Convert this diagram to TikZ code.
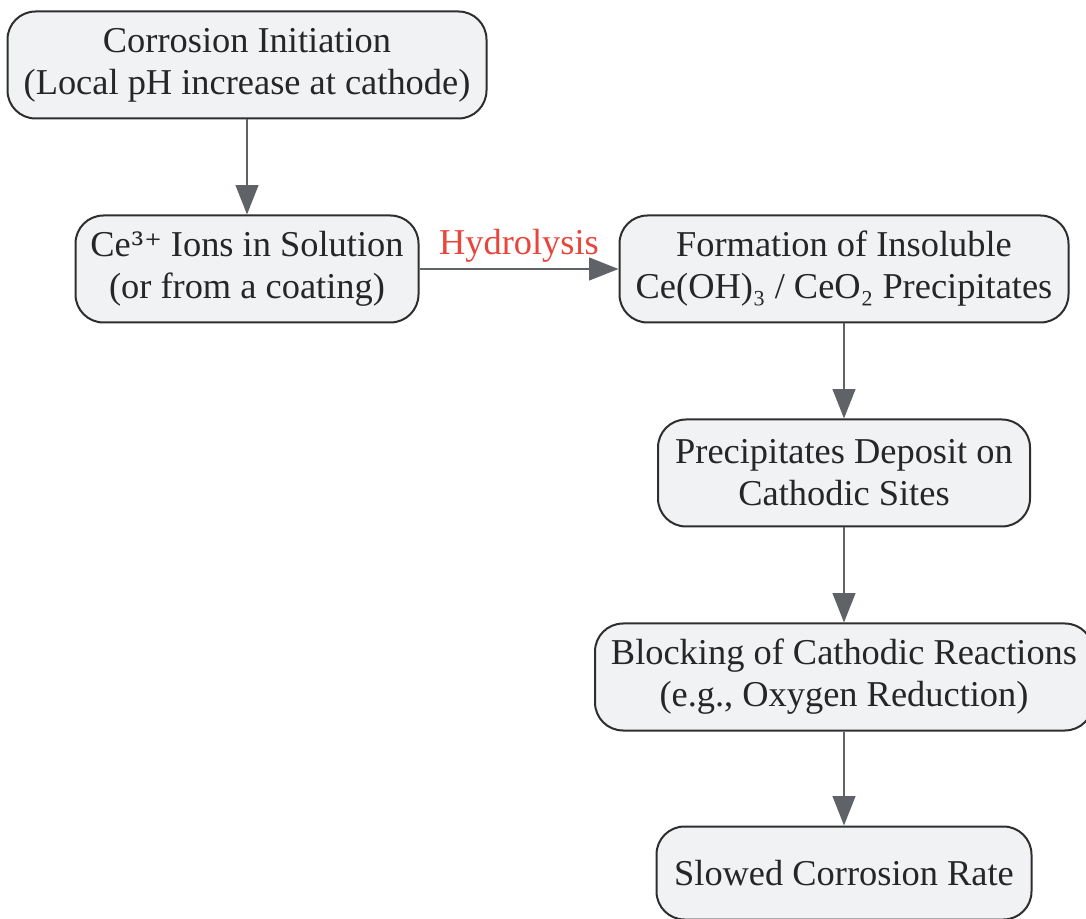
\documentclass[tikz,border=0pt]{standalone}
\usepackage{fontspec}
\setmainfont{Liberation Serif}
\newfontfamily\supfont{DejaVu Serif}
\usetikzlibrary{arrows.meta}
\definecolor{boxfill}{HTML}{F1F2F4}
\definecolor{boxline}{HTML}{2E2E2E}
\definecolor{arrowgray}{HTML}{5F6368}
\definecolor{labelred}{HTML}{E8453C}

\begin{document}
\begin{tikzpicture}[x=0.75pt,y=-0.75pt,
    stepbox/.style={draw=boxline, fill=boxfill, line width=1.5pt, rounded corners=21pt,
        align=center, inner sep=0pt, minimum height=80.25pt,
        font=\fontsize{27.3}{31.5}\selectfont, text=black!85},
    flow/.style={draw=arrowgray, line width=1.5pt, -{Triangle[length=22pt, width=17pt]}}]
\useasboundingbox (0,0) rectangle (1086,919);
\node[stepbox, minimum width=359.25pt] (init) at (247,65) {Corrosion Initiation\\(Local pH increase at cathode)};
\node[stepbox, minimum width=257.25pt] (ions) at (247,269) {Ce{\supfont\fontsize{25}{26}\selectfont ³⁺} Ions in Solution\\(or from a coating)};
\node[stepbox, minimum width=336.75pt] (form) at (844,269) {Formation of Insoluble\\Ce(OH)₃ / CeO₂ Precipitates};
\node[stepbox, minimum width=279pt] (dep) at (844,473) {Precipitates Deposit on\\Cathodic Sites};
\node[stepbox, minimum width=373.5pt] (block) at (844,677) {Blocking of Cathodic Reactions\\(e.g., Oxygen Reduction)};
\node[stepbox, minimum width=281.25pt, minimum height=69.75pt] (slow) at (844,873) {Slowed Corrosion Rate};
\draw[flow] (init) -- (ions);
\draw[flow] (ions) -- node[above=1pt, text=labelred, font=\fontsize{27.3}{31.5}\selectfont] {Hydrolysis} (form);
\draw[flow] (form) -- (dep);
\draw[flow] (dep) -- (block);
\draw[flow] (block) -- (slow);
\end{tikzpicture}
\end{document}
